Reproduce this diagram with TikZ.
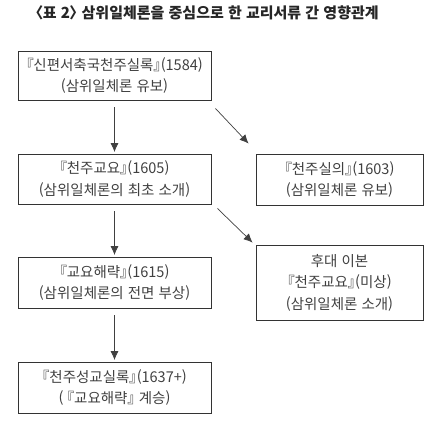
\documentclass[tikz,border=0pt]{standalone}
\usepackage{fontspec}
\setmainfont{Noto Sans CJK KR}[Script=Hangul, Language=Korean, RawFeature=+palt]
\usetikzlibrary{arrows.meta}
\tikzset{
  box/.style={draw=black!80, line width=0.8pt, minimum width=193pt, minimum height=51pt, align=center, inner sep=0pt, font=\fontsize{14.5}{21.5}\selectfont, text=black!75},
  arr/.style={draw=black!75, line width=0.7pt, -{Latex[length=9pt,width=8pt]}}
}
\begin{document}
\begin{tikzpicture}[x=1pt,y=1pt]
\useasboundingbox (0,0) rectangle (430,-420);
\node[font=\fontsize{15}{18}\bfseries\selectfont, text=black!85] (title) at (207,-13) {〈표 2〉 삼위일체론을 중심으로 한 교리서류 간 영향관계};
\node[box, minimum height=49pt] (b1) at (114.5,-75.5) {『신편서축국천주실록』(1584)\\(삼위일체론 유보)};
\node[box, minimum height=50pt] (b2) at (114.5,-179) {『천주교요』(1605)\\(삼위일체론의 최초 소개)};
\node[box] (b3) at (114.5,-282.5) {『교요해략』(1615)\\(삼위일체론의 전면 부상)};
\node[box] (b4) at (114.5,-387.5) {『천주성교실록』(1637+)\\(\hspace{3.5pt}『교요해략』 계승)};
\node[box, minimum width=167pt, minimum height=51pt] (r1) at (339.5,-179.5) {『천주실의』(1603)\\(삼위일체론 유보)};
\node[box, minimum width=167pt, minimum height=75pt] (r2) at (339.5,-282.5) {후대 이본\\『천주교요』(미상)\\(삼위일체론 소개)};
\draw[arr, shorten <=7pt, shorten >=1.5pt] (b1) -- (b2);
\draw[arr, shorten <=7pt, shorten >=1.5pt] (b2) -- (b3);
\draw[arr, shorten <=7pt, shorten >=1.5pt] (b3) -- (b4);
\coordinate (d1s) at ([xshift=4pt,yshift=-8pt]b1.south east);
\coordinate (d1e) at ([xshift=-7pt,yshift=10pt]r1.north west);
\coordinate (d2s) at ([xshift=6pt,yshift=-4pt]b2.south east);
\coordinate (d2e) at ([xshift=-3pt,yshift=2pt]r2.north west);
\draw[arr] (d1s) -- (d1e);
\draw[arr] (d2s) -- (d2e);
\end{tikzpicture}
\end{document}
